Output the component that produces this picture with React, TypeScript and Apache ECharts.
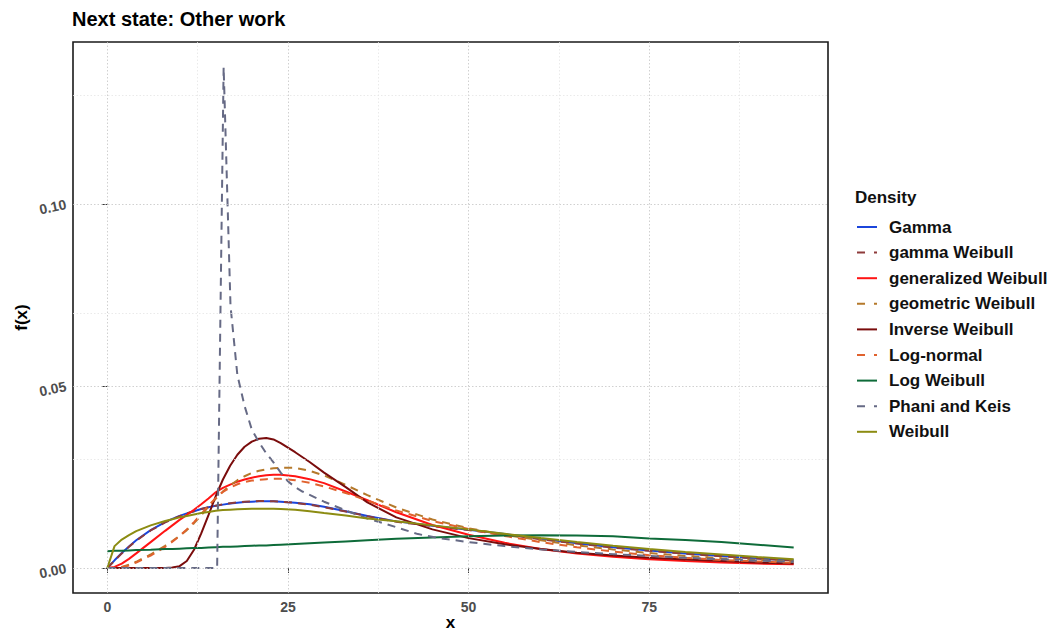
import React, { useEffect, useRef } from "react";
import * as echarts from "echarts";

const TITLE = "Next state: Other work";
const LEGEND_TITLE = "Density";
const X_NAME = "x";
const Y_NAME = "f(x)";

const X_TICKS = [0, 25, 50, 75];
const X_MINOR = [12.5, 37.5, 62.5, 87.5];
const Y_TICKS = [0, 0.05, 0.1];
const Y_MINOR = [0.025, 0.075, 0.125];

const X = [0, 1, 2, 3, 4, 6, 8, 9, 10, 11, 12, 13, 14, 15, 16, 17, 18, 19, 20, 21, 22, 23, 24, 26, 28, 30, 33, 36, 40, 45, 50, 55, 60, 65, 70, 75, 80, 85, 90, 95];

const GAMMA = [0, 0.0021, 0.0041, 0.0059, 0.0076, 0.0104, 0.0126, 0.0135, 0.0143, 0.015, 0.0156, 0.0162, 0.0167, 0.0171, 0.0174, 0.0177, 0.0179, 0.0181, 0.0182, 0.0183, 0.0183, 0.0183, 0.0182, 0.0179, 0.0175, 0.0168, 0.0156, 0.0143, 0.0128, 0.0116, 0.0105, 0.0093, 0.008, 0.0068, 0.0057, 0.0048, 0.004, 0.0033, 0.0026, 0.0021];
const GAMMA_WEIBULL = [0, 0.002, 0.004, 0.0058, 0.0075, 0.0103, 0.0125, 0.0134, 0.0142, 0.015, 0.0156, 0.0162, 0.0167, 0.0171, 0.0175, 0.0178, 0.018, 0.0182, 0.0183, 0.0184, 0.0184, 0.0183, 0.0182, 0.0179, 0.0174, 0.0167, 0.0155, 0.0142, 0.0127, 0.0115, 0.0104, 0.0092, 0.0079, 0.0067, 0.0056, 0.0047, 0.0039, 0.0032, 0.0026, 0.002];
const GEN_WEIBULL = [0, 0.0003, 0.0012, 0.0025, 0.004, 0.0071, 0.0102, 0.0117, 0.0132, 0.0146, 0.016, 0.0175, 0.0191, 0.0208, 0.022, 0.0229, 0.0237, 0.0243, 0.0248, 0.0252, 0.0255, 0.0256, 0.0256, 0.0252, 0.0244, 0.0233, 0.021, 0.0186, 0.0153, 0.0118, 0.0091, 0.0069, 0.0052, 0.004, 0.0031, 0.0024, 0.0019, 0.0015, 0.0012, 0.001];
const GEO_WEIBULL = [0, 0.00005, 0.0003, 0.0009, 0.0017, 0.0037, 0.0061, 0.0074, 0.0088, 0.0104, 0.0123, 0.0145, 0.0168, 0.019, 0.021, 0.0227, 0.0241, 0.0252, 0.0261, 0.0267, 0.0271, 0.0274, 0.0275, 0.0275, 0.0267, 0.0254, 0.0228, 0.02, 0.0166, 0.0133, 0.0109, 0.0091, 0.0076, 0.0062, 0.0051, 0.0041, 0.0033, 0.0027, 0.0022, 0.0018];
const INV_WEIBULL = [0, 0, 0, 0, 0, 0, 0.00002, 0.0001, 0.0005, 0.0019, 0.005, 0.0095, 0.0145, 0.0197, 0.0243, 0.0281, 0.0311, 0.0333, 0.0347, 0.0355, 0.0357, 0.0353, 0.0343, 0.0318, 0.0291, 0.0262, 0.0222, 0.018, 0.0139, 0.0106, 0.0082, 0.0065, 0.0052, 0.0042, 0.0034, 0.0028, 0.0023, 0.0019, 0.0015, 0.0012];
const LOG_NORMAL = [0, 0, 0.0002, 0.0007, 0.0015, 0.0034, 0.0058, 0.0072, 0.0088, 0.0106, 0.0126, 0.0148, 0.0171, 0.0192, 0.0209, 0.0221, 0.023, 0.0236, 0.024, 0.0242, 0.0244, 0.0245, 0.0245, 0.0241, 0.0234, 0.0224, 0.0206, 0.0185, 0.0158, 0.0129, 0.0107, 0.0088, 0.0071, 0.0057, 0.0045, 0.0035, 0.0028, 0.0022, 0.0018, 0.0014];
const LOG_WEIBULL = [0.0046, 0.0047, 0.0047, 0.0048, 0.0049, 0.005, 0.0052, 0.0052, 0.0053, 0.0054, 0.0055, 0.0055, 0.0056, 0.0057, 0.0058, 0.0058, 0.0059, 0.006, 0.0061, 0.0062, 0.0062, 0.0063, 0.0064, 0.0066, 0.0068, 0.007, 0.0073, 0.0076, 0.008, 0.0084, 0.0087, 0.0089, 0.009, 0.0089, 0.0087, 0.0081, 0.0077, 0.0071, 0.0064, 0.0056];
const WEIBULL = [0, 0.006, 0.0078, 0.009, 0.0101, 0.0117, 0.0129, 0.0134, 0.0139, 0.0143, 0.0147, 0.0151, 0.0154, 0.0157, 0.0159, 0.016, 0.0161, 0.0162, 0.0163, 0.0163, 0.0163, 0.0163, 0.0162, 0.016, 0.0156, 0.0151, 0.0144, 0.0136, 0.0128, 0.0117, 0.0106, 0.0094, 0.0082, 0.0071, 0.0061, 0.0052, 0.0044, 0.0037, 0.003, 0.0024];

const PHANI_X = [0, 15.2, 16.1, 17.05, 18, 19, 20, 21, 22, 23, 24, 25, 26, 27, 30, 33, 36, 40, 43, 46, 50, 55, 60, 65, 70, 75, 80, 85, 90, 95];
const PHANI_Y = [0, 0, 0.1376, 0.072, 0.053, 0.0445, 0.038, 0.0345, 0.0315, 0.029, 0.0262, 0.0238, 0.0222, 0.021, 0.0182, 0.0158, 0.0136, 0.0112, 0.0093, 0.0082, 0.0071, 0.006, 0.0051, 0.0044, 0.0038, 0.0033, 0.0028, 0.0024, 0.002, 0.0017];

const NAMES = ["Gamma", "gamma Weibull", "generalized Weibull", "geometric Weibull", "Inverse Weibull", "Log-normal", "Log Weibull", "Phani and Keis", "Weibull"];

const FONT = "'Liberation Sans', Arial, Helvetica, sans-serif";

const pairs = (xs: number[], ys: number[]) => xs.map((x, i) => [x, ys[i]]);

export default function App() {
  const ref = useRef<HTMLDivElement>(null);

  useEffect(() => {
    if (!ref.current) return;
    const chart = echarts.init(ref.current, undefined, { renderer: "svg" });

    const seriesSpec = [
      { name: NAMES[0], data: pairs(X, GAMMA), color: "#1B45DB", dashed: false },
      { name: NAMES[1], data: pairs(X, GAMMA_WEIBULL), color: "#8E3B3B", dashed: true },
      { name: NAMES[2], data: pairs(X, GEN_WEIBULL), color: "#FF1414", dashed: false },
      { name: NAMES[3], data: pairs(X, GEO_WEIBULL), color: "#B5792B", dashed: true },
      { name: NAMES[4], data: pairs(X, INV_WEIBULL), color: "#7A0C0C", dashed: false },
      { name: NAMES[5], data: pairs(X, LOG_NORMAL), color: "#E0622E", dashed: true },
      { name: NAMES[6], data: pairs(X, LOG_WEIBULL), color: "#0E6B39", dashed: false },
      { name: NAMES[7], data: pairs(PHANI_X, PHANI_Y), color: "#666A85", dashed: true },
      { name: NAMES[8], data: pairs(X, WEIBULL), color: "#8C8C12", dashed: false },
    ];

    const major = { color: "#c4c4c4", width: 0.8, type: [1.5, 2] };
    const minor = { color: "#e4e4e4", width: 0.8, type: [1.5, 2] };

    const gridLines = [
      ...X_TICKS.map((v) => ({ xAxis: v, lineStyle: major })),
      ...X_MINOR.map((v) => ({ xAxis: v, lineStyle: minor })),
      ...Y_TICKS.map((v) => ({ yAxis: v, lineStyle: major })),
      ...Y_MINOR.map((v) => ({ yAxis: v, lineStyle: minor })),
    ];

    const option: any = {
      animation: false,
      backgroundColor: "#ffffff",
      textStyle: { fontFamily: FONT },
      title: [
        {
          text: TITLE,
          left: 72,
          top: 9,
          padding: 0,
          textStyle: { fontSize: 20, fontWeight: "bold", color: "#000", fontFamily: FONT },
        },
        {
          text: LEGEND_TITLE,
          left: 855,
          top: 189,
          padding: 0,
          textStyle: { fontSize: 17, fontWeight: "bold", color: "#111", fontFamily: FONT },
        },
      ],
      legend: {
        orient: "vertical",
        left: 856,
        top: 217,
        padding: 0,
        itemWidth: 20,
        itemHeight: 14,
        itemGap: 5.6,
        itemStyle: { opacity: 0 },
        data: seriesSpec.map((s) =>
          s.dashed
            ? { name: s.name, itemStyle: { opacity: 0 }, lineStyle: { type: [8, 9], width: 2 } }
            : { name: s.name, itemStyle: { opacity: 0 }, lineStyle: { width: 2 } }
        ),
        textStyle: {
          fontSize: 17,
          fontWeight: "bold",
          color: "#111",
          fontFamily: FONT,
          lineHeight: 20,
          padding: [0, 0, 0, 7],
        },
      },
      grid: {
        left: 73,
        right: 228,
        top: 42,
        bottom: 39,
        show: true,
        borderColor: "#1a1a1a",
        borderWidth: 1.6,
        backgroundColor: "#ffffff",
        containLabel: false,
        outerBoundsMode: "none",
      },
      xAxis: {
        type: "value",
        min: -4.75,
        max: 99.75,
        name: X_NAME,
        nameLocation: "middle",
        nameGap: 21,
        nameMoveOverlap: false,
        nameTextStyle: { fontSize: 17, lineHeight: 17, fontWeight: "bold", color: "#000", fontFamily: FONT },
        axisLine: { show: false },
        splitLine: { show: false },
        axisTick: {
          show: true,
          customValues: X_TICKS,
          length: 5,
          lineStyle: { color: "#333", width: 1 },
        },
        axisLabel: {
          customValues: X_TICKS,
          margin: 7,
          fontSize: 14,
          fontWeight: "bold",
          color: "#4d4d4d",
          fontFamily: FONT,
        },
      },
      yAxis: {
        type: "value",
        min: -0.00688,
        max: 0.1445,
        name: Y_NAME,
        nameLocation: "middle",
        nameRotate: 90,
        nameGap: 43,
        nameMoveOverlap: false,
        nameTextStyle: { fontSize: 17, fontWeight: "bold", color: "#000", fontFamily: FONT },
        axisLine: { show: false },
        splitLine: { show: false },
        axisTick: {
          show: true,
          customValues: Y_TICKS,
          length: 5,
          lineStyle: { color: "#333", width: 1 },
        },
        axisLabel: {
          customValues: Y_TICKS,
          rotate: 12,
          margin: 7,
          fontSize: 14,
          fontWeight: "bold",
          color: "#4d4d4d",
          fontFamily: FONT,
          formatter: (v: number) => v.toFixed(2),
        },
      },
      series: [
        {
          name: "__grid",
          type: "line",
          data: [],
          silent: true,
          z: 1,
          markLine: {
            silent: true,
            symbol: ["none", "none"],
            label: { show: false },
            animation: false,
            data: gridLines,
          },
        },
        ...seriesSpec.map((s) => ({
          name: s.name,
          type: "line",
          data: s.data,
          symbol: "none",
          showSymbol: false,
          z: 3,
          color: s.color,
          lineStyle: {
            color: s.color,
            width: 2,
            type: s.dashed ? [8, 6] : "solid",
          },
        })),
      ],
    };

    chart.setOption(option);
    return () => chart.dispose();
  }, []);

  return (
    <div
      ref={ref}
      style={{ position: "absolute", left: 0, top: 0, width: 1056, height: 632, background: "#fff" }}
    />
  );
}
